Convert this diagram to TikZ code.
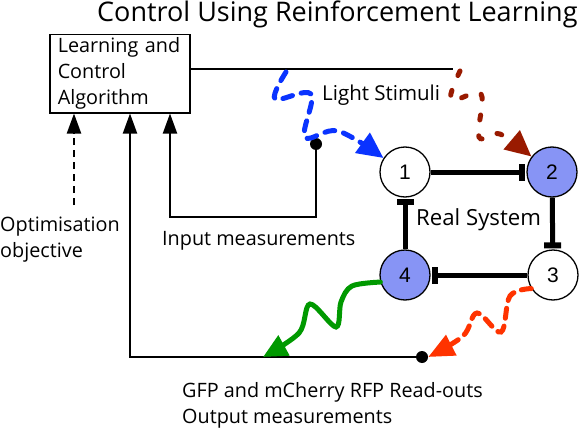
\documentclass[tikz,border=0pt]{standalone}
\usepackage{fontspec}
\setmainfont{Open Sans}
\newfontfamily\numfont{Liberation Sans}
\usetikzlibrary{arrows.meta}
\definecolor{nodeblue}{RGB}{135,148,245}
\definecolor{lblue}{RGB}{10,51,255}
\definecolor{dred}{RGB}{153,26,0}
\definecolor{grn}{RGB}{0,153,0}
\definecolor{orng}{RGB}{255,51,0}
\begin{document}
\begin{tikzpicture}[x=1pt,y=-1pt,
  lbl/.style={font=\fontsize{19.8}{26}\selectfont, inner sep=0pt, align=left},
  ttl/.style={font=\fontsize{27}{30}\selectfont, inner sep=0pt},
  gene/.style={circle,draw,line width=1.3pt,minimum size=50pt,inner sep=0pt,font=\numfont\fontsize{21}{21}\selectfont},
  rep/.style={fill=nodeblue},
  inh/.style={line width=5pt,-{Rectangle[length=6pt,width=17pt]}, shorten >=1pt},
  conn/.style={line width=2pt},
  inarrow/.style={line width=2pt,-{Triangle[length=20pt,width=14pt]}},
  dotnode/.style={circle,fill=black,inner sep=0pt,minimum size=12pt},
  light/.style={line width=5pt,line cap=round},
]
\useasboundingbox (0,0) rectangle (581,428);
% title
\node[ttl, anchor=base west] (title) at (97,22) {Control Using Reinforcement Learning};
% box
\node[draw, line width=1.5pt, anchor=north west, minimum width=140pt, minimum height=78pt,
      inner xsep=8pt, text width=124pt, lbl] (b) at (49,34) {Learning and\\Control\\Algorithm};
% genes
\node[gene] (n1) at (405,172) {1};
\node[gene,rep] (n2) at (552,172) {2};
\node[gene] (n3) at (553,275) {3};
\node[gene,rep] (n4) at (405,275) {4};
\draw[inh] (n1) -- (n2);
\draw[inh] (n2) -- (n3);
\draw[inh] (n3) -- (n4);
\draw[inh] (n4) -- (n1);
% labels
\node[lbl, font=\fontsize{20.5}{26}\selectfont, anchor=base west] (ls) at (322,100) {Light Stimuli};
\node[lbl, font=\fontsize{22.2}{26}\selectfont, anchor=base west] (rs) at (416,225) {Real System};
\node[lbl, anchor=base west] (opt) at (0,257) {Optimisation\\objective};
\node[lbl, anchor=base west] (im) at (162,245) {Input measurements};
\node[lbl, anchor=base west] (om) at (182,423) {GFP and mCherry RFP Read-outs\\Output measurements};
% dots
\node[dotnode] (d1) at (316,144) {};
\node[dotnode] (d2) at (422,357) {};
% connectors
\coordinate (lsend) at (453,69);
\draw[conn] (b.east |- lsend) -- (lsend);
\coordinate (optstart) at (74,205);
\draw[line width=2.2pt, dash pattern=on 7pt off 5pt, -{Triangle[length=20pt,width=14pt]}] (optstart) -- (b.south -| optstart);
\coordinate (c130) at (130,357);
\draw[inarrow] (d2.center) -- (c130) -- (b.south -| c130);
\coordinate (c170) at (170,217);
\draw[inarrow] (d1.center) |- (c170) -- (b.south -| c170);
% light stimuli
\coordinate (bs) at (286,72);
\draw[light, lblue, dash pattern=on 10pt off 9pt, -{Triangle[length=26pt,width=24pt]}]
  plot[smooth, tension=0.6] coordinates {(bs) (275,99) (311,94) (305,137) (338,131) (n1.147)};
\coordinate (rs0) at (460,71);
\draw[light, dred, dash pattern=on 5pt off 16pt, -{Triangle[length=26pt,width=24pt]}]
  plot[smooth, tension=0.6] coordinates {(rs0) (451,100) (481,94) (479,137) (500,134) (n2.143)};
% read-outs
\coordinate (gtip) at (263,357);
\draw[light, grn, -{Triangle[length=24pt,width=22pt]}]
  plot[smooth, tension=0.55] coordinates {(n4.196) (352,286) (341,302) (336,327) (310,304) (299,333) (gtip)};
\draw[light, orng, dash pattern=on 10pt off 8pt, -{Triangle[length=26pt,width=22pt]}]
  plot[smooth, tension=0.6] coordinates {(n3.212) (510,296) (501,332) (477,313) (463,336) (d2.east)};
\end{tikzpicture}
\end{document}
